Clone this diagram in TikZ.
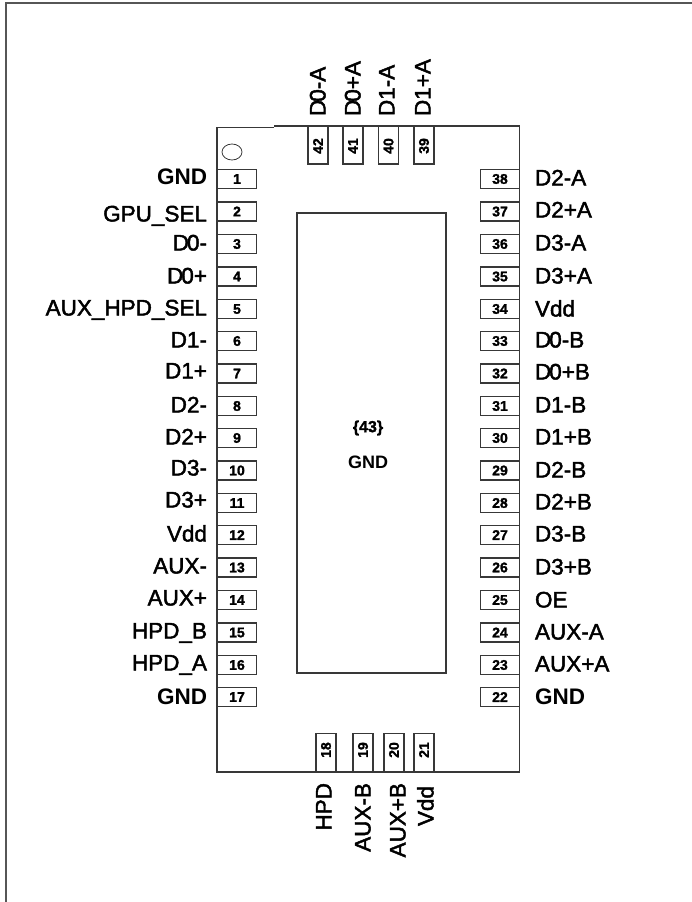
\documentclass[tikz,border=0pt]{standalone}
\usepackage{fontspec}
\usetikzlibrary{shapes.geometric}
\setmainfont{Liberation Sans}[BoldFont={Liberation Sans Bold}]
\newfontfamily\lblfont{Liberation Sans}[FakeBold=2]
\newfontfamily\numfont{Liberation Sans Bold}[FakeBold=1.5]
\newcommand{\dz}{D\kern-2pt 0}
\definecolor{ink}{gray}{0.22}
\begin{document}
\begin{tikzpicture}[x=1pt,y=-1pt,
  every node/.style={inner sep=0pt,outer sep=0pt},
  outline/.style={draw=ink,line width=1.3pt},
  frameline/.style={draw=ink!85,line width=2pt},
  hpin/.style={draw=ink,line width=1.3pt,fill=white,minimum width=39pt,minimum height=19pt,font=\numfont\fontsize{14}{14}\selectfont},
  vpin/.style={draw=ink,line width=1.3pt,fill=white,minimum width=20pt,minimum height=38pt},
  pinnum/.style={font=\numfont\fontsize{14}{14}\selectfont},
  lbl/.style={font=\lblfont\fontsize{22.5}{22.5}\selectfont,text=black,text height=15pt,text depth=0pt},
  lblb/.style={font=\bfseries\fontsize{22.5}{22.5}\selectfont,text=black,text height=15pt,text depth=0pt},
]
\useasboundingbox (0,0) rectangle (692,902);
\draw[frameline] (6,902) -- (6,2.5) -- (692,2.5);
% chip body
\draw[outline] (274,127.5) -- (217,127.5) -- (217,772) -- (519.5,772) -- (519.5,126) -- (274,126);
\node[outline,minimum width=149pt,minimum height=460pt] (pad) at (371.5,443) {};
\node[draw=ink,line width=0.8pt,ellipse,minimum width=20pt,minimum height=16pt] (dot) at (232,152) {};
% left pins
\foreach \n/\y/\ty/\t in {1/179/177/GND,2/211.5/214/GPU\_SEL,3/244/243/\dz-,4/276.5/276/\dz+,5/309/308/AUX\_HPD\_SEL,6/341/340/D1-,7/373.5/371/D1+,8/406/405/D2-,9/438/437/D2+,10/470.5/468/D3-,11/503/500/D3+,12/535/534/Vdd,13/567.5/566/AUX-,14/600/598/AUX+,15/632.5/631/HPD\_B,16/665/663/HPD\_A,17/697/697/GND}{
  \node[hpin] (p\n) at (237,\y) {\n};
  \ifnum\n=1 \node[lblb,anchor=east] (l\n) at (207,\ty) {\t};
  \else\ifnum\n=17 \node[lblb,anchor=east] (l\n) at (207,\ty) {\t};
  \else \node[lbl,anchor=east] (l\n) at (207,\ty) {\t};\fi\fi
}
% right pins
\foreach \n/\y/\ty/\t in {38/179/178/D2-A,37/211.5/210/D2+A,36/244/243/D3-A,35/276.5/276/D3+A,34/309/309/Vdd,33/341/340/\dz-B,32/373.5/372/\dz+B,31/406/405/D1-B,30/438/437/D1+B,29/470.5/470/D2-B,28/503/502/D2+B,27/535/534/D3-B,26/567.5/567/D3+B,25/600/600/OE,24/632.5/632/AUX-A,23/665/664/AUX+A,22/697/697/GND}{
  \node[hpin] (p\n) at (500,\y) {\n};
  \ifnum\n=22 \node[lblb,anchor=west] (l\n) at (535,\ty) {\t};
  \else \node[lbl,anchor=west] (l\n) at (535,\ty) {\t};\fi
}
% top pins
\foreach \n/\x/\lx/\t in {42/318/318/\dz-A,41/353/353/\dz+A,40/388.5/387/D1-A,39/424/423/D1+A}{
  \node[vpin] (p\n) at (\x,145) {};
  \node[pinnum,rotate=90] (n\n) at (\x,146) {\n};
  \node[lbl,rotate=90,anchor=west] (l\n) at (\lx,116) {\t};
}
% bottom pins
\foreach \n/\x/\lx/\ly/\t in {18/326/324/783/HPD,19/363/363/783/AUX-B,20/394/398/783/AUX+B,21/424/426/786/Vdd}{
  \node[vpin] (p\n) at (\x,752.5) {};
  \node[pinnum,rotate=90] (n\n) at (\x,750) {\n};
  \node[lbl,rotate=90,anchor=east] (l\n) at (\lx,\ly) {\t};
}
\node[font=\numfont\fontsize{16}{16}\selectfont] (n43) at (368,428) {\{43\}};
\node[font=\bfseries\fontsize{18}{18}\selectfont] (g43) at (368,462) {GND};
\end{tikzpicture}
\end{document}
